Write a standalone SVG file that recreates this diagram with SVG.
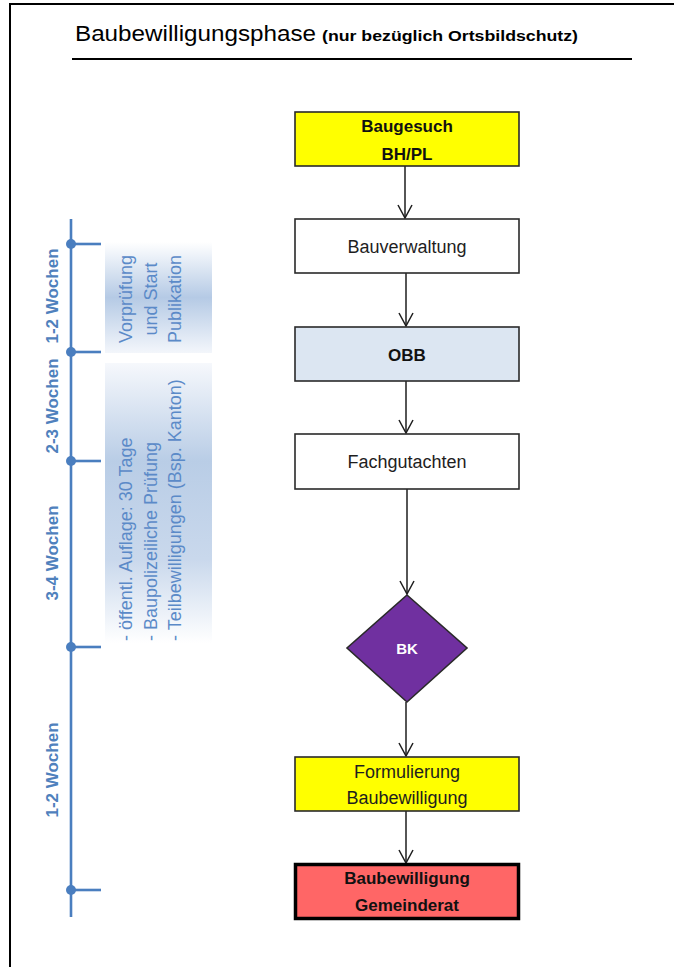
<svg xmlns="http://www.w3.org/2000/svg" width="674" height="967" viewBox="0 0 674 967">
<defs>
<style>
.t{font-family:"Liberation Sans",Arial,sans-serif;}
.box{stroke:#2a2a2a;stroke-width:1.6;}
.nt{font-family:"Liberation Sans",Arial,sans-serif;font-size:18px;fill:#1e1e1e;text-anchor:middle;}
.bt{font-family:"Liberation Sans",Arial,sans-serif;font-size:17px;font-weight:bold;fill:#111;text-anchor:middle;}
.tl{stroke:#4a7ebf;stroke-width:2.6;fill:none;}
.dot{fill:#4a7ebf;}
.wk{font-family:"Liberation Sans",Arial,sans-serif;font-size:17px;font-weight:bold;fill:#4f81bd;text-anchor:middle;}
.bd{font-family:"Liberation Sans",Arial,sans-serif;font-size:18px;fill:#5b8ac8;}
.conn{stroke:#1e1e1e;stroke-width:1.5;fill:none;}
</style>
<marker id="arr" viewBox="0 0 16 16" refX="15" refY="8" markerWidth="16" markerHeight="16" markerUnits="userSpaceOnUse" orient="auto">
<path d="M2,1 L15,8 L2,15" fill="none" stroke="#1e1e1e" stroke-width="1.5"/>
</marker>
<linearGradient id="g1" x1="0" y1="0" x2="0" y2="1">
<stop offset="0" stop-color="#ffffff"/>
<stop offset="0.5" stop-color="#b5cae5"/>
<stop offset="1" stop-color="#f3f6fb"/>
</linearGradient>
<linearGradient id="g2" x1="0" y1="0" x2="0" y2="1">
<stop offset="0" stop-color="#f6f8fc"/>
<stop offset="0.35" stop-color="#b9cde6"/>
<stop offset="0.7" stop-color="#c9d8ec"/>
<stop offset="1" stop-color="#ffffff"/>
</linearGradient>
</defs>
<rect width="674" height="967" fill="#ffffff"/>
<!-- page frame -->
<path d="M10,967 L10,4 L674,4" fill="none" stroke="#000" stroke-width="2"/>
<!-- title -->
<g id="title">
<text class="t" x="75" y="41" font-size="22" fill="#000" textLength="241" lengthAdjust="spacingAndGlyphs">Baubewilligungsphase</text>
<text class="t" x="322" y="41" font-size="15" font-weight="bold" fill="#000" textLength="256" lengthAdjust="spacingAndGlyphs">(nur bezüglich Ortsbildschutz)</text>
<line x1="72" y1="59" x2="632" y2="59" stroke="#000" stroke-width="2"/>
</g>
<!-- timeline -->
<g id="timeline">
<rect x="105" y="242" width="107" height="111" fill="url(#g1)"/>
<rect x="105" y="363" width="107" height="280" fill="url(#g2)"/>
<line class="tl" x1="71" y1="219" x2="71" y2="917"/>
<line class="tl" x1="71" y1="244" x2="101" y2="244"/>
<line class="tl" x1="71" y1="352" x2="101" y2="352"/>
<line class="tl" x1="71" y1="461" x2="101" y2="461"/>
<line class="tl" x1="71" y1="647" x2="101" y2="647"/>
<line class="tl" x1="71" y1="890" x2="101" y2="890"/>
<circle class="dot" cx="71" cy="244" r="5"/>
<circle class="dot" cx="71" cy="352" r="5"/>
<circle class="dot" cx="71" cy="461" r="5"/>
<circle class="dot" cx="71" cy="647" r="5"/>
<circle class="dot" cx="71" cy="890" r="5"/>
<text class="wk" transform="translate(58,296) rotate(-90)">1-2 Wochen</text>
<text class="wk" transform="translate(58,406) rotate(-90)">2-3 Wochen</text>
<text class="wk" transform="translate(58,553) rotate(-90)">3-4 Wochen</text>
<text class="wk" transform="translate(58,770) rotate(-90)">1-2 Wochen</text>
<text class="bd" text-anchor="middle" transform="translate(132,299) rotate(-90)">Vorprüfung</text>
<text class="bd" text-anchor="middle" transform="translate(157,299) rotate(-90)">und Start</text>
<text class="bd" text-anchor="middle" transform="translate(181,299) rotate(-90)">Publikation</text>
<text class="bd" transform="translate(132,641) rotate(-90)">- öffentl. Auflage: 30 Tage</text>
<text class="bd" transform="translate(157,641) rotate(-90)">- Baupolizeiliche Prüfung</text>
<text class="bd" transform="translate(181,641) rotate(-90)">- Teilbewilligungen (Bsp. Kanton)</text>
</g>
<!-- connectors -->
<g id="connectors">
<line class="conn" x1="405" y1="166" x2="405" y2="218" marker-end="url(#arr)"/>
<line class="conn" x1="406" y1="273" x2="406" y2="326" marker-end="url(#arr)"/>
<line class="conn" x1="406" y1="381" x2="406" y2="433" marker-end="url(#arr)"/>
<line class="conn" x1="407" y1="489" x2="407" y2="594" marker-end="url(#arr)"/>
<line class="conn" x1="406" y1="702" x2="406" y2="756" marker-end="url(#arr)"/>
<line class="conn" x1="406" y1="811" x2="406" y2="863" marker-end="url(#arr)"/>
</g>
<!-- nodes -->
<g id="baugesuch">
<rect class="box" x="295" y="112" width="224" height="54" fill="#ffff00"/>
<text class="bt" x="407" y="132">Baugesuch</text>
<text class="bt" x="407" y="160">BH/PL</text>
</g>
<g id="bauverwaltung">
<rect class="box" x="295" y="219" width="224" height="54" fill="#ffffff"/>
<text class="nt" x="407" y="253">Bauverwaltung</text>
</g>
<g id="obb">
<rect class="box" x="295" y="327" width="224" height="54" fill="#dce6f2"/>
<text class="bt" x="407" y="361">OBB</text>
</g>
<g id="fachgutachten">
<rect class="box" x="295" y="434" width="224" height="55" fill="#ffffff"/>
<text class="nt" x="407" y="468">Fachgutachten</text>
</g>
<g id="bk">
<polygon class="box" points="407,595 467,648 407,702 347,648" fill="#7030a0"/>
<text class="t" x="407" y="654" font-size="15" font-weight="bold" fill="#ffffff" text-anchor="middle">BK</text>
</g>
<g id="formulierung">
<rect class="box" x="295" y="757" width="224" height="54" fill="#ffff00"/>
<text class="nt" x="407" y="778">Formulierung</text>
<text class="nt" x="407" y="804">Baubewilligung</text>
</g>
<g id="baubewilligung">
<rect x="295.5" y="864.5" width="223" height="54" fill="#ff6666" stroke="#000" stroke-width="3.5"/>
<text class="bt" x="407" y="884">Baubewilligung</text>
<text class="bt" x="407" y="911">Gemeinderat</text>
</g>
</svg>
